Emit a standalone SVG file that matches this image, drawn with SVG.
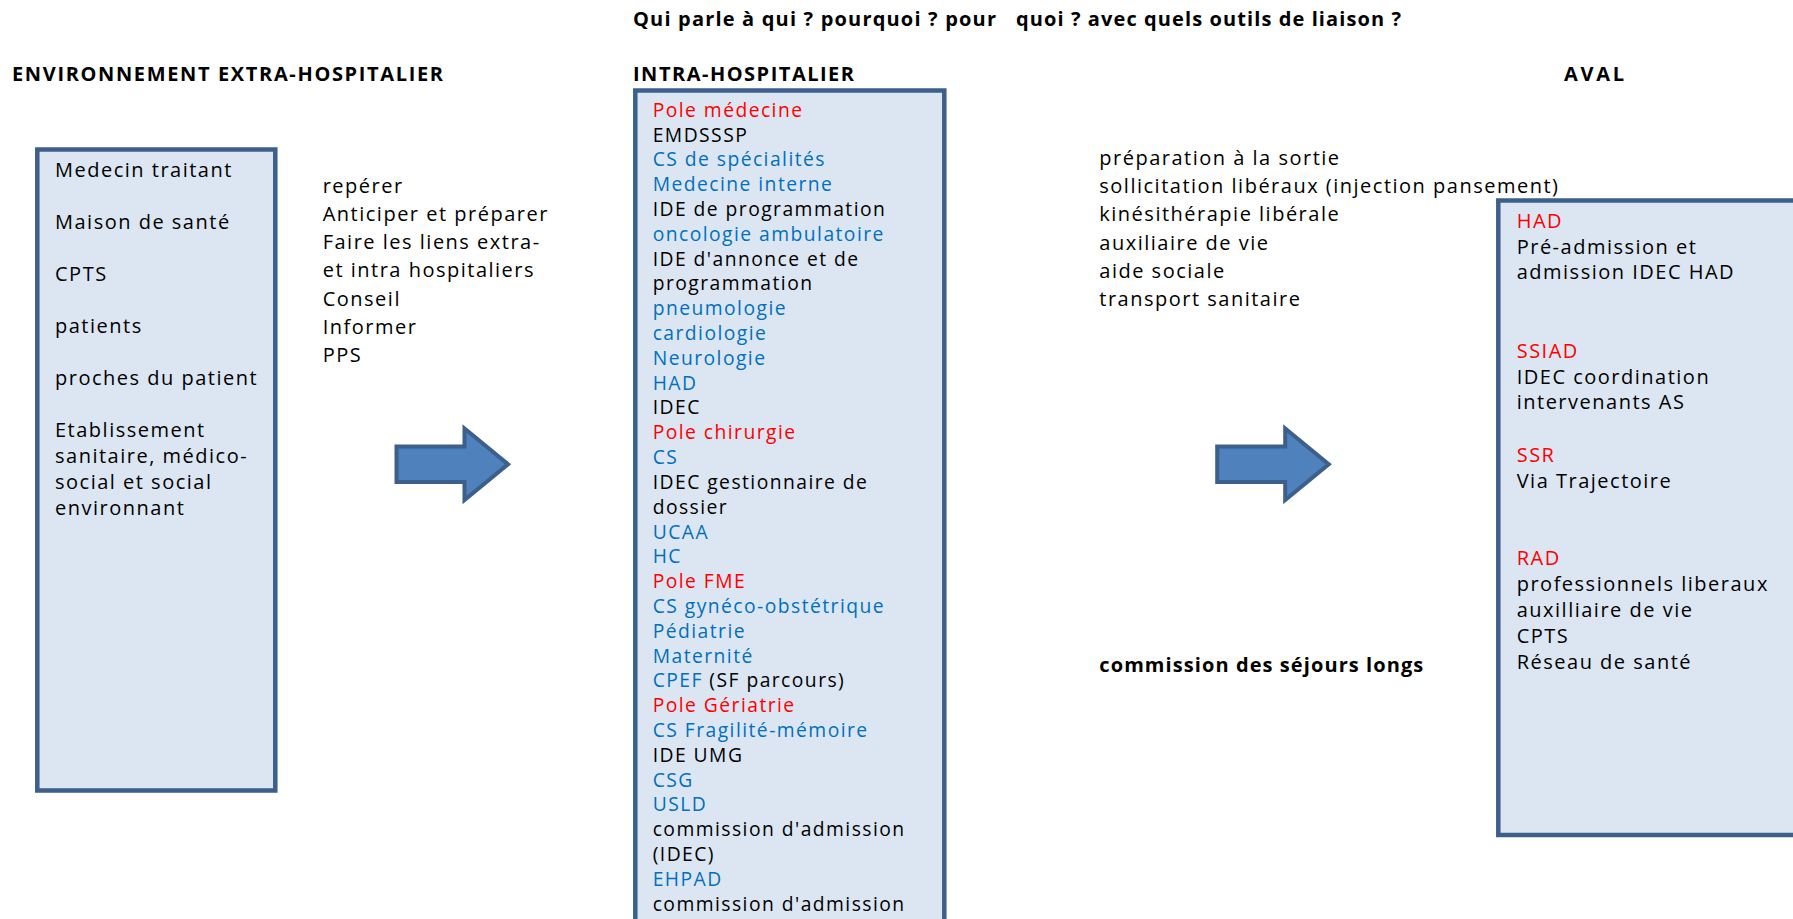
<svg xmlns="http://www.w3.org/2000/svg" width="1793" height="919" viewBox="0 0 1793 919">
<style>
text{font-family:"Open Sans","Noto Sans","DejaVu Sans",sans-serif;fill:#000}
.t{font-size:20px;letter-spacing:1.5px}
.ti{font-size:19.3px;letter-spacing:1.45px}
.b{font-size:20px;font-weight:700}
.r{fill:#ff0000}
.bl{fill:#0070c0}
.box{fill:#dce6f2;stroke:#3c5f8b;stroke-width:4.5}
.arrow{fill:#4f81bd;stroke:#3c5f8b;stroke-width:4;stroke-linejoin:miter}
</style>
<rect width="1793" height="919" fill="#ffffff"/>

<g id="titles">
<text class="b" x="633" y="26" textLength="363">Qui parle à qui ? pourquoi ? pour</text>
<text class="b" x="1016" y="26" textLength="385">quoi ? avec quels outils de liaison ?</text>
<text class="b" x="12" y="81" textLength="431">ENVIRONNEMENT EXTRA-HOSPITALIER</text>
<text class="b" x="633" y="81" textLength="221">INTRA-HOSPITALIER</text>
<text class="b" x="1564" y="81" textLength="60">AVAL</text>
</g>

<g id="extra">
<rect class="box" x="37.3" y="149.5" width="238" height="641"/>
<text class="t" x="55" y="176.7">Medecin traitant</text>
<text class="t" x="55" y="228.7">Maison de santé</text>
<text class="t" x="55" y="280.7">CPTS</text>
<text class="t" x="55" y="332.7">patients</text>
<text class="t" x="55" y="384.7">proches du patient</text>
<text class="t" x="55" y="436.5">Etablissement</text>
<text class="t" x="55" y="462.5">sanitaire, médico-</text>
<text class="t" x="55" y="488.5">social et social</text>
<text class="t" x="55" y="514.5">environnant</text>
</g>

<g id="roles">
<text class="t" x="322.7" y="192.7">repérer</text>
<text class="t" x="322.7" y="220.9">Anticiper et préparer</text>
<text class="t" x="322.7" y="249.1">Faire les liens extra-</text>
<text class="t" x="322.7" y="277.3">et intra hospitaliers</text>
<text class="t" x="322.7" y="305.5">Conseil</text>
<text class="t" x="322.7" y="333.7">Informer</text>
<text class="t" x="322.7" y="361.9">PPS</text>
</g>

<g id="intra">
<rect class="box" x="635.3" y="90.5" width="309" height="850"/>
<text class="ti r" x="652.7" y="116.7">Pole médecine</text>
<text class="ti" x="652.7" y="141.5">EMDSSSP</text>
<text class="ti bl" x="652.7" y="166.3">CS de spécialités</text>
<text class="ti bl" x="652.7" y="191.1">Medecine interne</text>
<text class="ti" x="652.7" y="215.9">IDE de programmation</text>
<text class="ti bl" x="652.7" y="240.7">oncologie ambulatoire</text>
<text class="ti" x="652.7" y="265.6">IDE d'annonce et de</text>
<text class="ti" x="652.7" y="290.4">programmation</text>
<text class="ti bl" x="652.7" y="315.2">pneumologie</text>
<text class="ti bl" x="652.7" y="340.0">cardiologie</text>
<text class="ti bl" x="652.7" y="364.8">Neurologie</text>
<text class="ti bl" x="652.7" y="389.6">HAD</text>
<text class="ti" x="652.7" y="414.4">IDEC</text>
<text class="ti r" x="652.7" y="439.2">Pole chirurgie</text>
<text class="ti bl" x="652.7" y="464.0">CS</text>
<text class="ti" x="652.7" y="488.9">IDEC gestionnaire de</text>
<text class="ti" x="652.7" y="513.7">dossier</text>
<text class="ti bl" x="652.7" y="538.5">UCAA</text>
<text class="ti bl" x="652.7" y="563.3">HC</text>
<text class="ti r" x="652.7" y="588.1">Pole FME</text>
<text class="ti bl" x="652.7" y="612.9">CS gynéco-obstétrique</text>
<text class="ti bl" x="652.7" y="637.7">Pédiatrie</text>
<text class="ti bl" x="652.7" y="662.5">Maternité</text>
<text class="ti" x="652.7" y="687.3"><tspan class="bl">CPEF</tspan> (SF parcours)</text>
<text class="ti r" x="652.7" y="712.1">Pole Gériatrie</text>
<text class="ti bl" x="652.7" y="737.0">CS Fragilité-mémoire</text>
<text class="ti" x="652.7" y="761.8">IDE UMG</text>
<text class="ti bl" x="652.7" y="786.6">CSG</text>
<text class="ti bl" x="652.7" y="811.4">USLD</text>
<text class="ti" x="652.7" y="836.2">commission d'admission</text>
<text class="ti" x="652.7" y="861.0">(IDEC)</text>
<text class="ti bl" x="652.7" y="885.8">EHPAD</text>
<text class="ti" x="652.7" y="910.6">commission d'admission</text>
</g>

<g id="sortie">
<text class="t" x="1099.3" y="165">préparation à la sortie</text>
<text class="t" x="1099.3" y="193.2">sollicitation libéraux (injection pansement)</text>
<text class="t" x="1099.3" y="221.4">kinésithérapie libérale</text>
<text class="t" x="1099.3" y="249.6">auxiliaire de vie</text>
<text class="t" x="1099.3" y="277.8">aide sociale</text>
<text class="t" x="1099.3" y="306">transport sanitaire</text>
</g>

<g id="commission">
<text class="b" x="1099.3" y="671.7" textLength="324">commission des séjours longs</text>
</g>

<g id="aval">
<rect class="box" x="1498.3" y="200.5" width="320" height="634.5"/>
<text class="t r" x="1516.7" y="227.7">HAD</text>
<text class="t" x="1516.7" y="253.5">Pré-admission et</text>
<text class="t" x="1516.7" y="279.3">admission IDEC HAD</text>
<text class="t r" x="1516.7" y="357.7">SSIAD</text>
<text class="t" x="1516.7" y="383.5">IDEC coordination</text>
<text class="t" x="1516.7" y="409.3">intervenants AS</text>
<text class="t r" x="1516.7" y="461.7">SSR</text>
<text class="t" x="1516.7" y="487.5">Via Trajectoire</text>
<text class="t r" x="1516.7" y="565.3">RAD</text>
<text class="t" x="1516.7" y="591.1">professionnels liberaux</text>
<text class="t" x="1516.7" y="616.9">auxilliaire de vie</text>
<text class="t" x="1516.7" y="642.7">CPTS</text>
<text class="t" x="1516.7" y="668.5">Réseau de santé</text>
</g>

<g id="connectors">
<path class="arrow" d="M396.5,446.5 H464.5 V428.5 L508,464.3 L464.5,500 V482 H396.5 Z"/>
<path class="arrow" d="M1217.2,446.5 H1285.2 V428.5 L1328.7,464.3 L1285.2,500 V482 H1217.2 Z"/>
</g>
</svg>
